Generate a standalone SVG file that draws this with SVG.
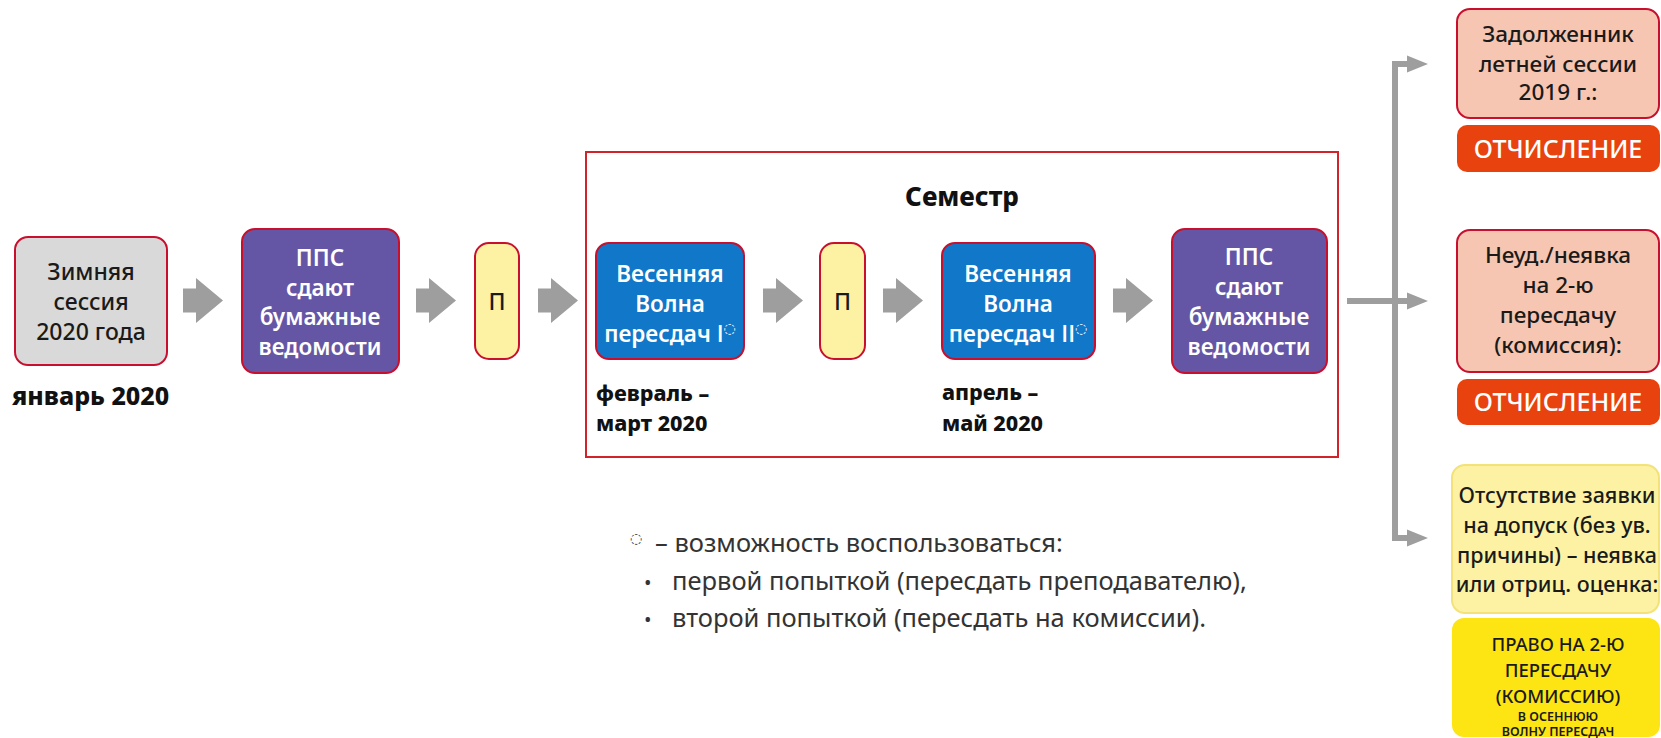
<svg xmlns="http://www.w3.org/2000/svg" width="1661" height="738" viewBox="0 0 1661 738">
<style>
text{font-family:"Noto Sans","Open Sans","DejaVu Sans",sans-serif;text-anchor:middle}
.box{stroke:#c8102e;stroke-width:2}
.gray{fill:#d9d9d9}
.pur{fill:#6556a5}
.blue{fill:#1077c9}
.ly{fill:#fdf2a3}
.pink{fill:#f7c6b2}
.red{fill:#e8430f}
.t{font-size:23px;font-weight:500;fill:#1a1a1a}
.tw{font-size:22.5px;font-weight:600;fill:#ffffff}
.rn{font-family:"Open Sans","Liberation Sans",sans-serif}
.date{font-size:25px;font-weight:800;fill:#111;text-anchor:start}
.d2{font-size:21.5px;font-weight:800;fill:#111;text-anchor:start}
.sym{font-family:"DejaVu Sans",sans-serif;font-size:14px;font-weight:700}
.rt{font-size:22.5px;font-weight:500;fill:#1a1a1a}
.ot{font-size:25px;font-weight:500;fill:#fff}
.note{font-size:25.5px;fill:#333;text-anchor:start}
.yb{font-size:18.5px;font-weight:500;fill:#1a1a1a}
.ys{font-size:12.5px;font-weight:600;fill:#1a1a1a}
.ar{fill:#9e9e9e}
.ln{stroke:#9e9e9e;stroke-width:6;fill:none}
</style>
<defs>
<path id="blk" d="M0,-12 H13 V-22.5 L40,0 L13,22.5 V12 H0 Z"/>
<path id="tri" d="M0,-8.5 L21,0 L0,8.5 Z"/>
</defs>

<g id="frame">
<rect x="586" y="152" width="752" height="305" fill="#fff" stroke="#d2232a" stroke-width="2"/>
<text x="962" y="206" style="font-size:26px;font-weight:800;fill:#111">Семестр</text>
</g>

<g id="connectors">
<use href="#blk" class="ar" x="183" y="300.5"/>
<use href="#blk" class="ar" x="416" y="300.5"/>
<use href="#blk" class="ar" x="538" y="300.5"/>
<use href="#blk" class="ar" x="763" y="300.5"/>
<use href="#blk" class="ar" x="883" y="300.5"/>
<use href="#blk" class="ar" x="1113" y="300.5"/>
<path class="ln" d="M1347,301 H1408"/>
<path class="ln" d="M1408,64 H1395 V538 H1408"/>
<use href="#tri" class="ar" x="1407" y="64"/>
<use href="#tri" class="ar" x="1407" y="301"/>
<use href="#tri" class="ar" x="1407" y="538"/>
</g>

<g id="winter">
<rect class="box gray" x="15" y="237" width="152" height="128" rx="13"/>
<text class="t" x="91" y="280">Зимняя</text>
<text class="t" x="91" y="310">сессия</text>
<text class="t" x="91" y="340">2020 года</text>
<text class="date" x="12" y="405">январь 2020</text>
</g>

<g id="pps1">
<rect class="box pur" x="242" y="229" width="157" height="144" rx="13"/>
<text class="tw" x="320" y="266">ППС</text>
<text class="tw" x="320" y="296">сдают</text>
<text class="tw" x="320" y="325">бумажные</text>
<text class="tw" x="320" y="355">ведомости</text>
</g>

<g id="p1">
<rect class="box ly" x="475" y="243" width="44" height="116" rx="14"/>
<text class="t" x="497" y="310">П</text>
</g>

<g id="wave1">
<rect class="box blue" x="596" y="243" width="148" height="116" rx="13"/>
<text class="tw" x="670" y="282">Весенняя</text>
<text class="tw" x="670" y="312">Волна</text>
<text class="tw" x="670" y="342">пересдач <tspan class="rn">I</tspan><tspan class="sym" dy="-9">◌</tspan></text>
<text class="d2" x="596" y="401">февраль –</text>
<text class="d2" x="596" y="431">март 2020</text>
</g>

<g id="p2">
<rect class="box ly" x="820" y="243" width="45" height="116" rx="14"/>
<text class="t" x="842.5" y="310">П</text>
</g>

<g id="wave2">
<rect class="box blue" x="942" y="243" width="153" height="116" rx="13"/>
<text class="tw" x="1018" y="282">Весенняя</text>
<text class="tw" x="1018" y="312">Волна</text>
<text class="tw" x="1018" y="342">пересдач <tspan class="rn">II</tspan><tspan class="sym" dy="-9">◌</tspan></text>
<text class="d2" x="942" y="400">апрель –</text>
<text class="d2" x="942" y="431">май 2020</text>
</g>

<g id="pps2">
<rect class="box pur" x="1172" y="229" width="155" height="144" rx="13"/>
<text class="tw" x="1249" y="265">ППС</text>
<text class="tw" x="1249" y="295">сдают</text>
<text class="tw" x="1249" y="325">бумажные</text>
<text class="tw" x="1249" y="355">ведомости</text>
</g>

<g id="debtor">
<rect class="box pink" x="1457" y="9" width="202" height="109" rx="13"/>
<text class="rt" x="1558" y="42">Задолженник</text>
<text class="rt" x="1558" y="72">летней сессии</text>
<text class="rt" x="1558" y="100">2019 г.:</text>
<rect class="red" x="1457" y="125" width="203" height="47" rx="10"/>
<text class="ot" x="1558" y="158">ОТЧИСЛЕНИЕ</text>
</g>

<g id="fail">
<rect class="box pink" x="1457" y="230" width="202" height="142" rx="13"/>
<text class="rt" x="1558" y="263">Неуд./неявка</text>
<text class="rt" x="1558" y="293">на 2-ю</text>
<text class="rt" x="1558" y="323">пересдачу</text>
<text class="rt" x="1558" y="353">(комиссия):</text>
<rect class="red" x="1457" y="379" width="203" height="46" rx="10"/>
<text class="ot" x="1558" y="411">ОТЧИСЛЕНИЕ</text>
</g>

<g id="noapp">
<rect x="1452" y="465" width="207" height="148" rx="13" fill="#fdf2a3" stroke="#f3e27a" stroke-width="2"/>
<text class="rt" x="1557" y="503" style="font-size:21.5px">Отсутствие заявки</text>
<text class="rt" x="1557" y="533" style="font-size:21.5px">на допуск (без ув.</text>
<text class="rt" x="1557" y="563" style="font-size:21.5px">причины) – неявка</text>
<text class="rt" x="1557" y="592" style="font-size:21.5px">или отриц. оценка:</text>
<rect x="1452" y="618" width="208" height="119" rx="12" fill="#fde514"/>
<text class="yb" x="1558" y="651">ПРАВО НА 2-Ю</text>
<text class="yb" x="1558" y="677">ПЕРЕСДАЧУ</text>
<text class="yb" x="1558" y="703">(КОМИССИЮ)</text>
<text class="ys" x="1558" y="721">В ОСЕННЮЮ</text>
<text class="ys" x="1558" y="736">ВОЛНУ ПЕРЕСДАЧ</text>
</g>

<g id="footnote">
<text class="sym" x="636" y="543" style="fill:#333;text-anchor:middle">◌</text>
<text class="note" x="655" y="552">– возможность воспользоваться:</text>
<text class="note" x="644" y="590" style="font-size:20px">•</text>
<text class="note" x="672" y="590">первой попыткой (пересдать преподавателю),</text>
<text class="note" x="644" y="627" style="font-size:20px">•</text>
<text class="note" x="672" y="627">второй попыткой (пересдать на комиссии).</text>
</g>
</svg>
